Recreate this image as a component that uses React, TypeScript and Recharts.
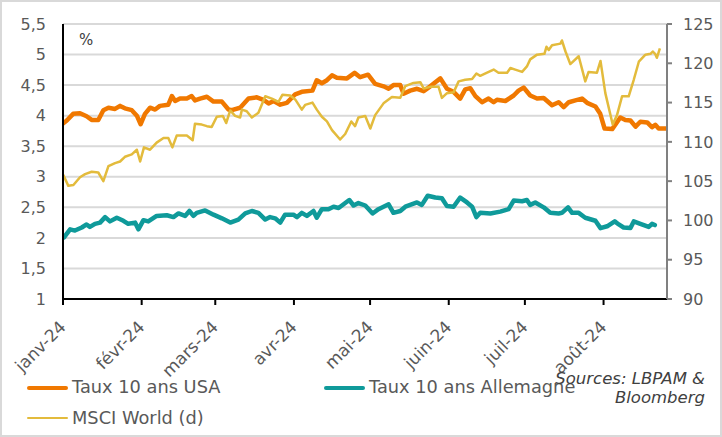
import React from "react";
import { LineChart, Line, XAxis, YAxis, CartesianGrid } from "recharts";

const FONT = "'DejaVu Sans', sans-serif";
const ORANGE = "#f07800";
const TEAL = "#0f9a9a";
const GOLD = "#e3bb3c";

// x values are days since 1 Jan 2024
const monthTicks = [0, 31, 60, 91, 121, 152, 182, 213];
const monthLabels = ["janv-24", "févr-24", "mars-24", "avr-24", "mai-24", "juin-24", "juil-24", "août-24"];
const rateTicks = [1, 1.5, 2, 2.5, 3, 3.5, 4, 4.5, 5, 5.5];
const indexTicks = [90, 95, 100, 105, 110, 115, 120, 125];

// [day, %]
const usa10y: [number, number][] = [
  [0, 3.87], [1.5, 3.92], [4, 4.03], [6.7, 4.04], [9.3, 3.99], [11.3, 3.93], [13.9, 3.93], [15.9, 4.09],
  [17.9, 4.13], [20.5, 4.11], [22.5, 4.16], [24.4, 4.12], [27.1, 4.09], [29.1, 4.0], [30.6, 3.86], [32.3, 4.03],
  [34.3, 4.13], [36.3, 4.1], [38.2, 4.16], [41.5, 4.18], [42.9, 4.32], [44.2, 4.24], [46.1, 4.28], [48.8, 4.28],
  [50.7, 4.32], [52, 4.25], [54, 4.28], [56.7, 4.31], [59.3, 4.23], [62.6, 4.23], [65.2, 4.1], [66.5, 4.09],
  [69.8, 4.13], [73.1, 4.28], [76.4, 4.3], [79, 4.26], [81, 4.2], [83, 4.24], [85.6, 4.18], [88.2, 4.21],
  [91.5, 4.35], [94.1, 4.39], [98.3, 4.41], [100, 4.58], [102, 4.53], [104, 4.58], [106, 4.66], [107.9, 4.62],
  [111.9, 4.61], [114.9, 4.7], [117.1, 4.63], [120.2, 4.67], [123, 4.52], [126.3, 4.48], [128.3, 4.44], [130.2, 4.5],
  [132.9, 4.5], [134.2, 4.36], [136.8, 4.41], [139.5, 4.44], [142.1, 4.4], [144.7, 4.48], [148.7, 4.61], [151.3, 4.44],
  [153.9, 4.39], [156.5, 4.28], [158.5, 4.43], [160.5, 4.45], [162.5, 4.32], [165.1, 4.22], [167.7, 4.28], [169.7, 4.22],
  [171, 4.26], [174.3, 4.24], [177.6, 4.33], [179.5, 4.41], [181.5, 4.46], [184.1, 4.33], [186.8, 4.28], [189.4, 4.29],
  [192.7, 4.17], [195.3, 4.22], [197.3, 4.14], [199.3, 4.22], [201.9, 4.25], [204.5, 4.28], [206.5, 4.21], [209.8, 4.15],
  [211.7, 4.03], [213.4, 3.79], [216.4, 3.78], [219.6, 3.97], [221.6, 3.93], [223.6, 3.92], [225.6, 3.82], [227.5, 3.9],
  [230.2, 3.89], [232.1, 3.81], [233.4, 3.85], [234.7, 3.79], [237.5, 3.79],
];

// [day, %]
const bund10y: [number, number][] = [
  [0.4, 2.01], [2.8, 2.14], [4.7, 2.12], [7.4, 2.17], [9.3, 2.22], [10.6, 2.18], [12.6, 2.23], [14.6, 2.25],
  [16.6, 2.34], [18.5, 2.27], [21.2, 2.33], [23.8, 2.28], [25.7, 2.23], [28.4, 2.25], [29.7, 2.14], [31.7, 2.29],
  [33.6, 2.27], [36.9, 2.36], [40.9, 2.37], [43.5, 2.34], [45.5, 2.4], [48.1, 2.36], [49.8, 2.44], [51.4, 2.36],
  [52.7, 2.41], [56, 2.45], [59.3, 2.38], [62.6, 2.32], [65.9, 2.25], [69.1, 2.3], [71.8, 2.4], [74.4, 2.44],
  [77, 2.41], [79.7, 2.3], [81.6, 2.34], [83.6, 2.32], [85.6, 2.25], [87.5, 2.38], [90.8, 2.38], [92.2, 2.34],
  [94.1, 2.41], [96.1, 2.36], [98.7, 2.44], [100, 2.33], [102, 2.47], [104.6, 2.47], [106.6, 2.51], [108.6, 2.49],
  [112.8, 2.62], [114.5, 2.53], [116.4, 2.57], [119.1, 2.53], [122, 2.4], [124.3, 2.47], [128.3, 2.55], [130.2, 2.41],
  [132.9, 2.44], [134.9, 2.51], [139.5, 2.58], [141.4, 2.54], [143.7, 2.69], [146.7, 2.66], [149.3, 2.65], [151.3, 2.52],
  [153.9, 2.51], [156.5, 2.66], [159.2, 2.58], [161.2, 2.51], [162.9, 2.34], [164.4, 2.41], [168.4, 2.4], [172.3, 2.43],
  [175.6, 2.47], [177.6, 2.61], [180.9, 2.6], [182.8, 2.62], [184.1, 2.54], [186.1, 2.58], [189.4, 2.5], [192, 2.41],
  [195.3, 2.4], [196.6, 2.41], [199, 2.5], [200.6, 2.41], [203.2, 2.41], [205.8, 2.33], [209.8, 2.28], [211.8, 2.16],
  [214.4, 2.19], [217.4, 2.27], [219, 2.22], [220.9, 2.17], [223.6, 2.16], [224.9, 2.27], [227.5, 2.23], [230.8, 2.18],
  [232.1, 2.23], [233.2, 2.21],
];

// [day, index] (right axis)
const msciWorld: [number, number][] = [
  [0.1, 105.8], [2.1, 104.4], [4.1, 104.5], [6.7, 105.5], [8.7, 105.9], [11.3, 106.2], [13.9, 106.1], [15.9, 105.0],
  [17.9, 106.9], [20.5, 107.3], [22.5, 107.5], [24.4, 108.1], [27.1, 108.4], [29.1, 109.0], [30.4, 107.5], [31.9, 109.3],
  [34.3, 109.0], [36.9, 109.9], [39.6, 110.5], [41.5, 110.5], [43.1, 109.3], [44.8, 110.8], [48.8, 110.8], [51.1, 110.2],
  [52, 112.3], [54.7, 112.2], [56.7, 112.0], [58.6, 111.9], [60.6, 113.2], [63, 113.3], [64.3, 112.4], [65.9, 114.0],
  [67.8, 113.3], [69.8, 113.1], [70.5, 114.1], [72.4, 113.9], [74.4, 113.1], [77, 113.7], [79.7, 115.8], [82.3, 115.5],
  [84.9, 115.1], [86.5, 116.0], [89.5, 115.9], [91.5, 115.4], [94.1, 114.1], [95.4, 114.7], [98.3, 115.0], [100, 114.1],
  [102, 113.2], [104, 112.6], [106, 111.5], [109.2, 110.3], [111.2, 111.0], [113.6, 112.6], [115.1, 112.0], [116.4, 113.1],
  [119.1, 113.3], [121.1, 111.7], [123, 113.4], [126.3, 114.9], [129.6, 115.7], [132.9, 115.6], [134.9, 117.1], [138.1, 117.5],
  [140.8, 117.6], [142.1, 116.8], [144.7, 117.0], [148, 117.0], [149.3, 115.6], [151.3, 116.2], [153.9, 116.3], [155.9, 117.7],
  [158.5, 117.9], [161.2, 118.0], [162.9, 118.7], [164.4, 118.4], [167.1, 118.8], [169.7, 119.2], [171.6, 118.8], [175, 118.8],
  [176.3, 119.4], [178.2, 119.2], [180.9, 118.9], [182.8, 119.6], [184.1, 120.5], [186.8, 121.1], [189.7, 121.2], [190.5, 122.1],
  [191.4, 121.7], [192.7, 122.3], [196, 122.5], [196.6, 122.9], [198, 121.5], [199.9, 119.9], [203.2, 120.9], [205.8, 117.7],
  [207.1, 118.9], [210.4, 118.8], [211.8, 120.3], [213.7, 116.2], [216.6, 112.2], [218.3, 113.4], [220.3, 115.8], [222.9, 115.8],
  [224.9, 117.9], [226.9, 120.2], [229.5, 121.1], [231.5, 121.2], [232.4, 121.5], [233.3, 121.2], [234, 120.7], [235.2, 121.9],
];

const toRows = (pts: [number, number][]) => pts.map(([d, v]) => ({ d, v }));
const comma = (v: number) => String(v).replace(".", ",");

const MonthTick = ({ x, y, payload }: any) => {
  const label = monthLabels[monthTicks.indexOf(payload.value)];
  return (
    <g transform={`translate(${x + 4},${y + 21})`}>
      <text textAnchor="end" transform="rotate(-45)" fill="#595959" fontSize={17} fontFamily={FONT}>
        {label}
      </text>
    </g>
  );
};

const legendText: React.CSSProperties = {
  position: "absolute",
  fontSize: 17.8,
  color: "#595959",
  lineHeight: "20px",
  whiteSpace: "nowrap",
};

const swatch = (left: number, top: number, color: string, h: number): React.CSSProperties => ({
  position: "absolute",
  left,
  top: top - h / 2,
  width: 41,
  height: h,
  borderRadius: h / 2,
  background: color,
});

export default function App() {
  return (
    <div
      style={{
        position: "absolute",
        left: 0,
        top: 0,
        width: 722,
        height: 437,
        background: "#fff",
        fontFamily: FONT,
      }}
    >
      <LineChart width={722} height={437} margin={{ top: 24, right: 0, bottom: 78, left: 0 }}>
        <CartesianGrid yAxisId="left" vertical={false} stroke="#d9d9d9" strokeWidth={2} />
        <XAxis
          type="number"
          dataKey="d"
          domain={[0, 238]}
          ticks={monthTicks}
          interval={0}
          height={60}
          tickSize={6}
          axisLine={{ stroke: "#000", strokeWidth: 2 }}
          tickLine={{ stroke: "#000", strokeWidth: 2 }}
          tick={<MonthTick />}
          allowDataOverflow
        />
        <YAxis
          yAxisId="left"
          domain={[1, 5.5]}
          ticks={rateTicks}
          interval={0}
          width={63}
          tickSize={0}
          tickMargin={17}
          tickLine={false}
          axisLine={{ stroke: "#000", strokeWidth: 2 }}
          tickFormatter={comma}
          tick={{ fill: "#595959", fontSize: 16, fontFamily: FONT }}
          allowDataOverflow
        />
        <YAxis
          yAxisId="right"
          orientation="right"
          domain={[90, 125]}
          ticks={indexTicks}
          interval={0}
          width={55}
          tickSize={5}
          tickMargin={11}
          axisLine={{ stroke: "#808080", strokeWidth: 2 }}
          tickLine={{ stroke: "#808080", strokeWidth: 2 }}
          tick={{ fill: "#595959", fontSize: 16, fontFamily: FONT }}
          allowDataOverflow
        />
        <Line
          yAxisId="left"
          data={toRows(bund10y)}
          dataKey="v"
          name="Taux 10 ans Allemagne"
          stroke={TEAL}
          strokeWidth={4.5}
          strokeLinejoin="round"
          strokeLinecap="round"
          dot={false}
          isAnimationActive={false}
        />
        <Line
          yAxisId="left"
          data={toRows(usa10y)}
          dataKey="v"
          name="Taux 10 ans USA"
          stroke={ORANGE}
          strokeWidth={4.5}
          strokeLinejoin="round"
          strokeLinecap="round"
          dot={false}
          isAnimationActive={false}
        />
        <Line
          yAxisId="right"
          data={toRows(msciWorld)}
          dataKey="v"
          name="MSCI World (d)"
          stroke={GOLD}
          strokeWidth={2.5}
          strokeLinejoin="round"
          dot={false}
          isAnimationActive={false}
        />
      </LineChart>

      <div style={{ position: "absolute", left: 79, top: 30, fontSize: 15, color: "#404040", lineHeight: "20px" }}>%</div>

      <div style={swatch(27, 388, ORANGE, 4.5)} />
      <div style={{ ...legendText, left: 72, top: 377 }}>Taux 10 ans USA</div>
      <div style={swatch(324, 388, TEAL, 4.5)} />
      <div style={{ ...legendText, left: 369, top: 377 }}>Taux 10 ans Allemagne</div>
      <div style={swatch(27, 418, GOLD, 2.5)} />
      <div style={{ ...legendText, left: 72, top: 408 }}>MSCI World (d)</div>

      <div
        style={{
          position: "absolute",
          right: 17,
          top: 369,
          fontSize: 16.5,
          fontStyle: "italic",
          color: "#404040",
          lineHeight: "19px",
          textAlign: "right",
        }}
      >
        Sources: LBPAM &amp;
        <br />
        Bloomberg
      </div>

      <div
        style={{
          position: "absolute",
          inset: 0,
          border: "2px solid #d9d9d9",
          boxSizing: "border-box",
          pointerEvents: "none",
        }}
      />
    </div>
  );
}
